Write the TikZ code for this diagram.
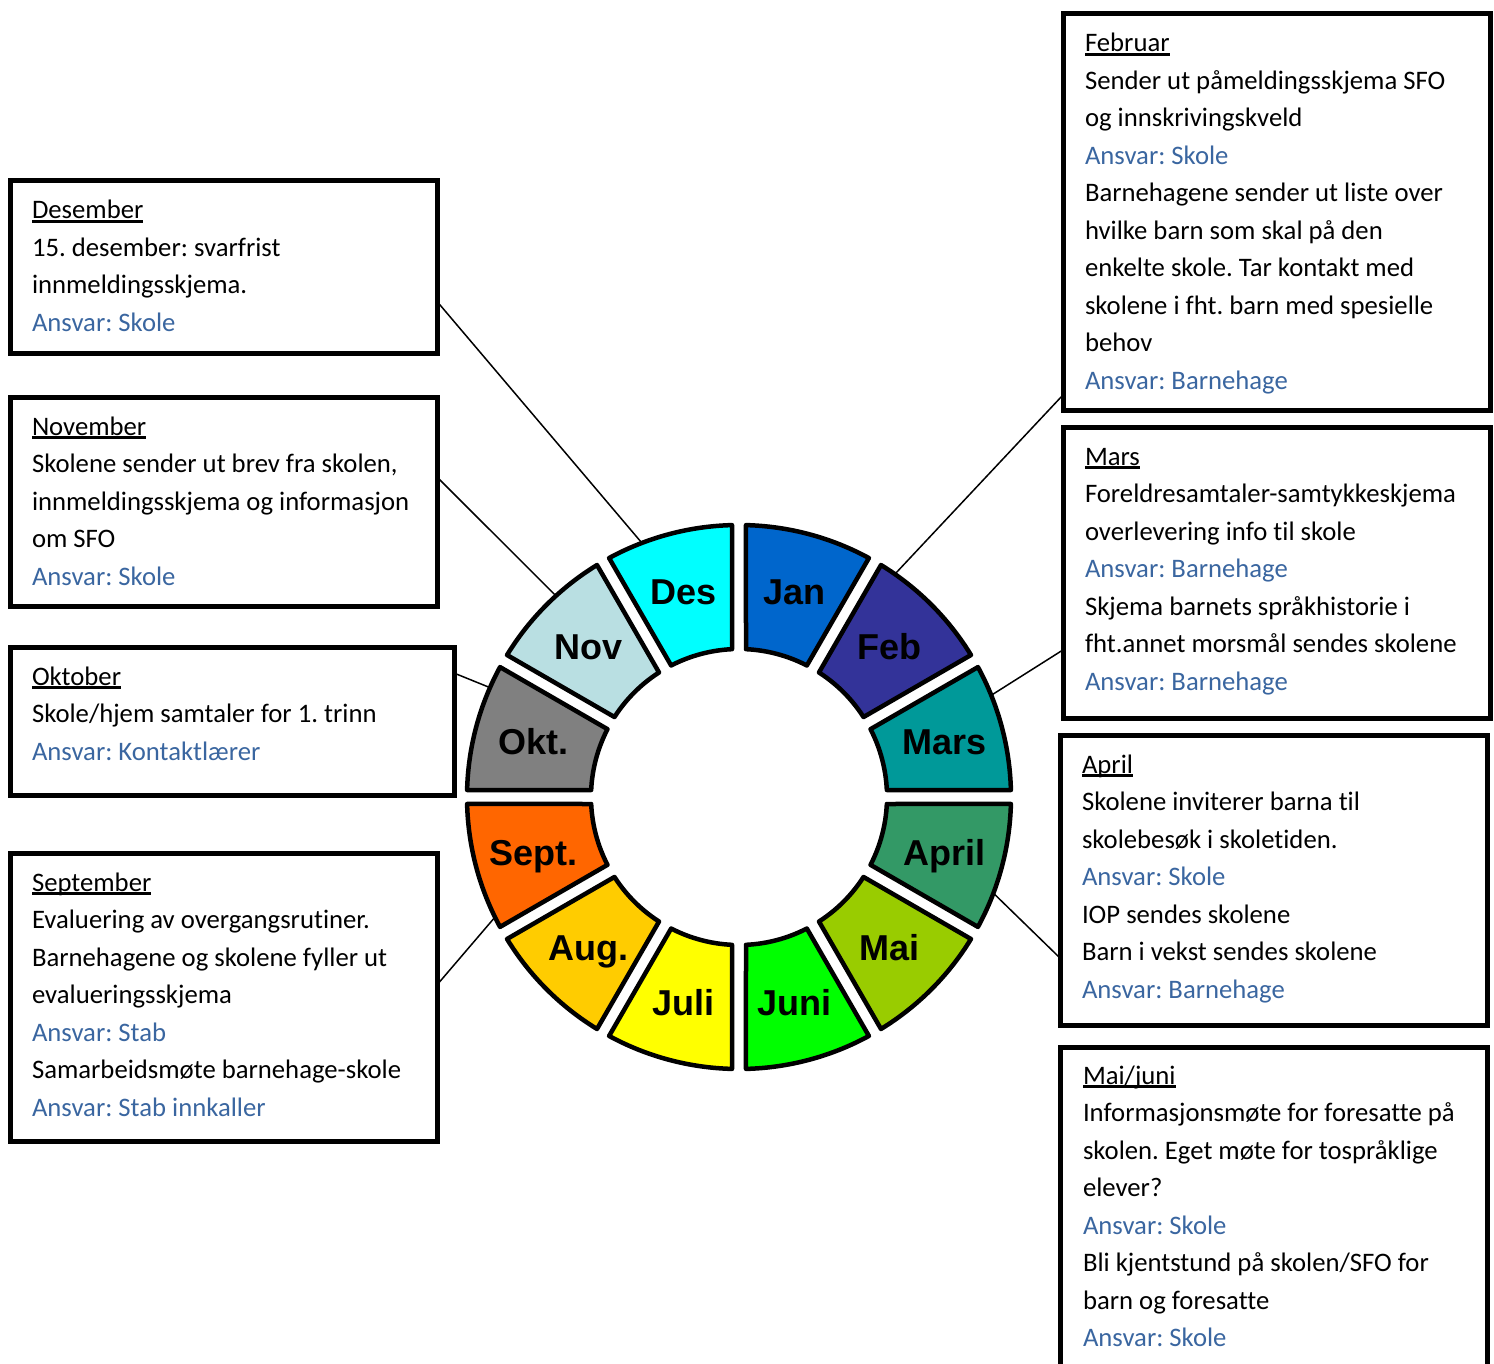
\documentclass[tikz,border=0pt]{standalone}
\usepackage{fontspec}
\setmainfont{Carlito}[Ligatures=CommonOff]
\newfontfamily\wheelfont{Liberation Sans}
\usetikzlibrary{calc}
\definecolor{ansv}{HTML}{3A66A0}
\definecolor{cJan}{HTML}{0066CC}
\definecolor{cFeb}{HTML}{333399}
\definecolor{cMar}{HTML}{009999}
\definecolor{cApr}{HTML}{339966}
\definecolor{cMai}{HTML}{99CC00}
\definecolor{cJun}{HTML}{00FF00}
\definecolor{cJul}{HTML}{FFFF00}
\definecolor{cAug}{HTML}{FFCC00}
\definecolor{cSep}{HTML}{FF6600}
\definecolor{cOkt}{HTML}{808080}
\definecolor{cNov}{HTML}{B9DFE2}
\definecolor{cDes}{HTML}{00FFFF}
\newlength\monw
\newcommand\monhead[1]{\settowidth\monw{#1}\rlap{\rule[-3.6pt]{\monw}{2.2pt}}#1}
\newcommand\ans[1]{{\color{ansv}#1}}
\newcommand\firstline{\spaceskip=0pt\xspaceskip=0pt\frenchspacing\rule{0pt}{28pt}}
\begin{document}
\begin{tikzpicture}[x=1pt,y=-1pt,
  infobox/.style={draw=black, line width=5pt, anchor=north west, inner sep=0pt, outer sep=0pt},
  infotext/.style={anchor=north west, inner sep=0pt, outer sep=0pt, text width=420pt, align=left,
     font=\fontsize{26.7pt}{37.5pt}\selectfont},
  seg/.style={draw=black, line width=4.5pt, line join=round},
  seglabel/.style={font=\wheelfont\bfseries\fontsize{36pt}{40pt}\selectfont, text height=25.8pt, text depth=0pt, inner sep=0pt},
  conn/.style={draw=black, line width=1.5pt}]
\useasboundingbox (0,0) rectangle (1494,1364);
\clip (0,0) rectangle (1494,1364);

% ---------- boxes ----------
\node[infobox, minimum width=427pt, minimum height=172pt] (desbox) at (10,181) {};
\node[infotext] (destext) at ($(desbox.north west)+(22,10)$) {\firstline\monhead{Desember}\\
15. desember: svarfrist\\
innmeldingsskjema.\\
\ans{Ansvar: Skole}};

\node[infobox, minimum width=427pt, minimum height=209pt] (novbox) at (10,397) {};
\node[infotext] (novtext) at ($(novbox.north west)+(22,10)$) {\firstline\monhead{November}\\
Skolene sender ut brev fra skolen,\\
innmeldingsskjema og informasjon\\
om SFO\\
\ans{Ansvar: Skole}};

\node[infobox, minimum width=444pt, minimum height=148pt] (oktbox) at (10,647) {};
\node[infotext] (okttext) at ($(oktbox.north west)+(22,10)$) {\firstline\monhead{Oktober}\\
Skole/hjem samtaler for 1. trinn\\
\ans{Ansvar: Kontaktlærer}};

\node[infobox, minimum width=427pt, minimum height=288pt] (sepbox) at (10,853) {};
\node[infotext] (septext) at ($(sepbox.north west)+(22,10)$) {\firstline\monhead{September}\\
Evaluering av overgangsrutiner.\\
Barnehagene og skolene fyller ut\\
evalueringsskjema\\
\ans{Ansvar: Stab}\\
Samarbeidsmøte barnehage-skole\\
\ans{Ansvar: Stab innkaller}};

\node[infobox, minimum width=427pt, minimum height=396pt] (febbox) at (1063,14) {};
\node[infotext] (febtext) at ($(febbox.north west)+(22,10)$) {\firstline\monhead{Februar}\\
Sender ut påmeldingsskjema SFO\\
og innskrivingskveld\\
\ans{Ansvar: Skole}\\
Barnehagene sender ut liste over\\
hvilke barn som skal på den\\
enkelte skole. Tar kontakt med\\
skolene i fht. barn med spesielle\\
behov\\
\ans{Ansvar: Barnehage}};

\node[infobox, minimum width=427pt, minimum height=291pt] (marbox) at (1063,427) {};
\node[infotext] (martext) at ($(marbox.north west)+(22,10)$) {\firstline\monhead{Mars}\\
Foreldresamtaler-samtykkeskjema\\
overlevering info til skole\\
\ans{Ansvar: Barnehage}\\
Skjema barnets språkhistorie i\\
fht.annet morsmål sendes skolene\\
\ans{Ansvar: Barnehage}};

\node[infobox, minimum width=427pt, minimum height=290pt] (aprbox) at (1060,735) {};
\node[infotext] (aprtext) at ($(aprbox.north west)+(22,10)$) {\firstline\monhead{April}\\
Skolene inviterer barna til\\
skolebesøk i skoletiden.\\
\ans{Ansvar: Skole}\\
IOP sendes skolene\\
Barn i vekst sendes skolene\\
\ans{Ansvar: Barnehage}};

\node[infobox, minimum width=427pt, minimum height=360pt] (maibox) at (1060,1047) {};
\node[infotext] (maitext) at ($(maibox.north west)+(23,9)$) {\firstline\monhead{Mai/juni}\\
Informasjonsmøte for foresatte på\\
skolen. Eget møte for tospråklige\\
elever?\\
\ans{Ansvar: Skole}\\
Bli kjentstund på skolen/SFO for\\
barn og foresatte\\
\ans{Ansvar: Skole}};

% ---------- wheel ----------
\coordinate (C) at (739,797);
\coordinate (desP) at ($(C)+(249:273)$);
\coordinate (novP) at ($(C)+(227.7:273)$);
\coordinate (oktP) at ($(C)+(203.7:274)$);
\coordinate (sepP) at ($(C)+(153.7:273)$);
\coordinate (febP) at ($(C)+(-55:273)$);
\coordinate (marP) at ($(C)+(-22:273)$);
\coordinate (aprP) at ($(C)+(20.8:273)$);

% connectors
\draw[conn] ($(desbox.north east)!0.70!(desbox.south east)$) -- (desP);
\draw[conn] ($(novbox.north east)!0.383!(novbox.south east)$) -- (novP);
\draw[conn] ($(oktbox.north east)!0.176!(oktbox.south east)$) -- (oktP);
\draw[conn] ($(sepbox.north east)!0.458!(sepbox.south east)$) -- (sepP);
\draw[conn] ($(febbox.north west)!0.962!(febbox.south west)$) -- (febP);
\draw[conn] ($(marbox.north west)!0.766!(marbox.south west)$) -- (marP);
\draw[conn] ($(aprbox.north west)!0.769!(aprbox.south west)$) -- (aprP);

\begin{scope}[shift={(739,797)}]
\def\ro{272}
\def\ri{148}
\def\dOut{1.47}
\def\dIn{2.71}
\foreach \k/\lab/\col/\nm in {0/Jan/cJan/jan, 1/Feb/cFeb/feb, 2/Mars/cMar/mar, 3/April/cApr/apr,
    4/Mai/cMai/mai, 5/Juni/cJun/jun, 6/Juli/cJul/jul, 7/Aug./cAug/aug, 8/Sept./cSep/sep,
    9/Okt./cOkt/okt, 10/Nov/cNov/nov, 11/Des/cDes/des} {
  \pgfmathsetmacro\ta{-90+30*\k}
  \pgfmathsetmacro\tb{\ta+30}
  \pgfmathsetmacro\tm{\ta+15}
  \pgfmathsetmacro\aa{\ta+\dOut}
  \pgfmathsetmacro\ab{\tb-\dOut}
  \pgfmathsetmacro\ia{\ta+\dIn}
  \pgfmathsetmacro\ib{\tb-\dIn}
  \draw[seg, fill=\col] (\aa:\ro) arc[start angle=\aa, end angle=\ab, radius=\ro]
     -- (\ib:\ri) arc[start angle=\ib, end angle=\ia, radius=\ri] -- cycle;
  \node[seglabel] (\nm) at (\tm:213) {\lab};
}
\end{scope}
\end{tikzpicture}
\end{document}
